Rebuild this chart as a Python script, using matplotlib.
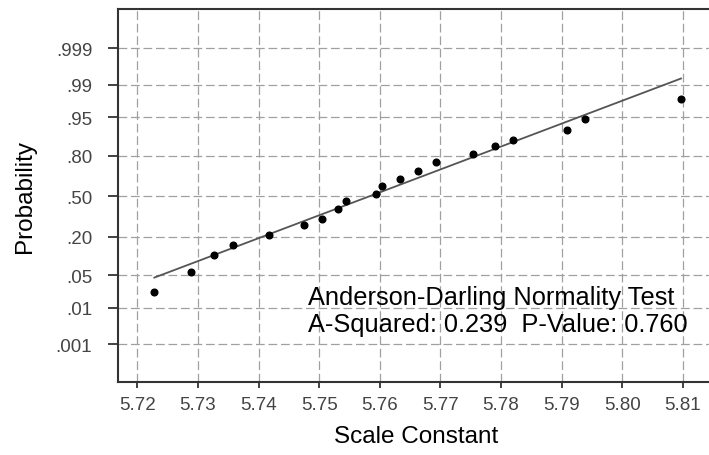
from statistics import NormalDist
import numpy as np
import matplotlib
matplotlib.use("Agg")
import matplotlib.pyplot as plt

plt.rcParams['font.family'] = ['Liberation Sans', 'DejaVu Sans']

# data
scale_const = [5.7228, 5.7289, 5.7327, 5.7358, 5.7417, 5.7475, 5.7505, 5.7531,
               5.7544, 5.7593, 5.7604, 5.7634, 5.7663, 5.7692, 5.7753, 5.7790,
               5.7819, 5.7909, 5.7938, 5.8097]
prob = [0.023, 0.057, 0.108, 0.156, 0.209, 0.271, 0.319, 0.394,
        0.460, 0.520, 0.587, 0.639, 0.702, 0.764, 0.813, 0.851,
        0.881, 0.916, 0.946, 0.979]
fit_mu = 5.7583
fit_sigma = 0.0209

prob_ticks = [0.001, 0.01, 0.05, 0.20, 0.50, 0.80, 0.95, 0.99, 0.999]
prob_labels = ['.001', '.01', '.05', '.20', '.50', '.80', '.95', '.99', '.999']
x_ticks = [5.72, 5.73, 5.74, 5.75, 5.76, 5.77, 5.78, 5.79, 5.80, 5.81]
x_labels = ['5.72', '5.73', '5.74', '5.75', '5.76', '5.77', '5.78', '5.79', '5.80', '5.81']

nd = NormalDist()
z = np.array([nd.inv_cdf(p) for p in prob])
z_ticks = [nd.inv_cdf(p) for p in prob_ticks]
xs = np.array(scale_const)

fig = plt.figure(figsize=(7.09, 4.56), dpi=100)
ax = fig.add_axes([0.1664, 0.160, 0.842, 0.818])

# fitted line
xl = np.array([xs.min(), xs.max()])
ax.plot(xl, (xl - fit_mu) / fit_sigma, color='#555555', lw=1.3, zorder=3)
ax.plot(xs, z, 'o', color='black', ms=4.8, zorder=4)

ax.set_xlim(5.7168, 5.8153)
ax.set_ylim(-3.88, 3.91)
ax.set_xticks(x_ticks)
ax.set_xticklabels(x_labels)
ax.set_yticks(z_ticks)
ax.set_yticklabels(prob_labels)

ax.grid(True, color='#a0a0a0', lw=0.9, dashes=(7, 3))
ax.set_axisbelow(True)

for s in ['top', 'left', 'bottom']:
    ax.spines[s].set_color('#333333')
    ax.spines[s].set_linewidth(1.5)
ax.spines['right'].set_visible(False)

ax.tick_params(axis='x', length=4, width=1.3, color='#333333', pad=6,
               labelsize=13.5, labelcolor='#444444')
ax.tick_params(axis='y', length=7.5, width=1.3, color='#333333', pad=11,
               labelsize=13.5, labelcolor='#444444')

ax.set_xlabel('Scale Constant', fontsize=17.5, labelpad=9)
ax.set_ylabel('Probability', fontsize=17.5, labelpad=14)

ax.text(5.7481, -2.25, 'Anderson-Darling Normality Test', fontsize=18.3,
        ha='left', va='baseline')
ax.text(5.7481, -2.82, 'A-Squared: 0.239  P-Value: 0.760', fontsize=18.3,
        ha='left', va='baseline')

fig.savefig('out.png', dpi=100)
